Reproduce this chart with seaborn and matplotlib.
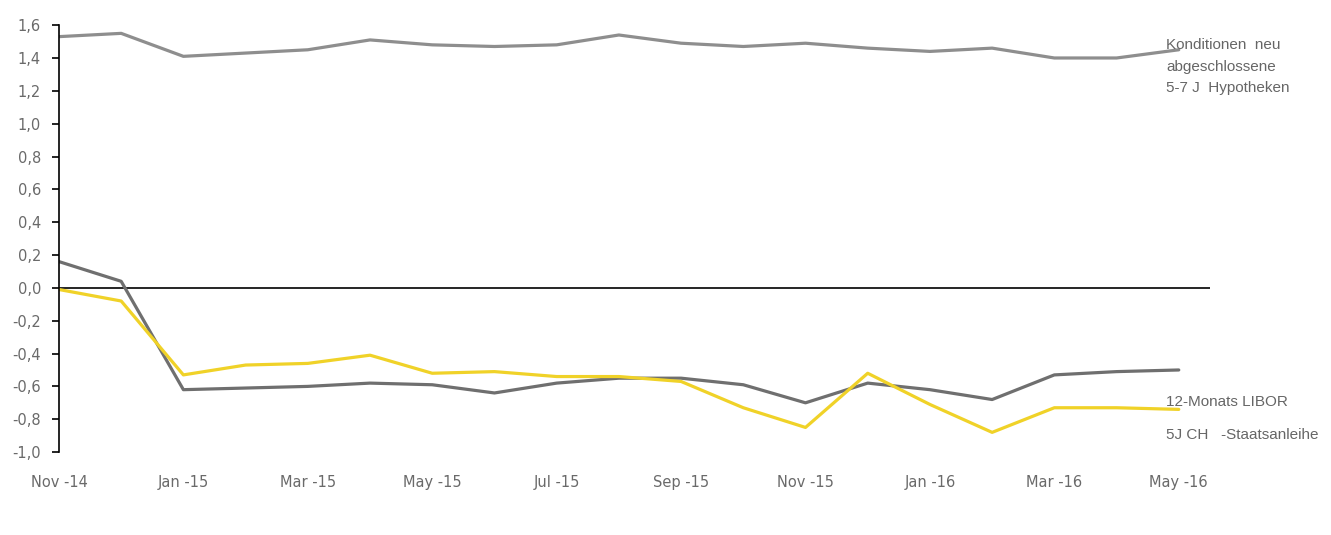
import matplotlib
matplotlib.use("Agg")
import matplotlib.pyplot as plt
import seaborn as sns
import pandas as pd

months = ["Nov -14", "Dec -14", "Jan -15", "Feb -15", "Mar -15", "Apr -15", "May -15",
          "Jun -15", "Jul -15", "Aug -15", "Sep -15", "Oct -15", "Nov -15", "Dec -15",
          "Jan -16", "Feb -16", "Mar -16", "Apr -16", "May -16"]
hypotheken = [1.53, 1.55, 1.41, 1.43, 1.45, 1.51, 1.48, 1.47, 1.48, 1.54, 1.49, 1.47,
              1.49, 1.46, 1.44, 1.46, 1.40, 1.40, 1.45]
libor = [0.16, 0.04, -0.62, -0.61, -0.60, -0.58, -0.59, -0.64, -0.58, -0.55, -0.55, -0.59,
         -0.70, -0.58, -0.62, -0.68, -0.53, -0.51, -0.50]
staatsanleihe = [-0.01, -0.08, -0.53, -0.47, -0.46, -0.41, -0.52, -0.51, -0.54, -0.54, -0.57,
                 -0.73, -0.85, -0.52, -0.71, -0.88, -0.73, -0.73, -0.74]
yticks = [1.6, 1.4, 1.2, 1.0, 0.8, 0.6, 0.4, 0.2, 0.0, -0.2, -0.4, -0.6, -0.8, -1.0]
ytick_labels = ["1,6", "1,4", "1,2", "1,0", "0,8", "0,6", "0,4", "0,2", "0,0",
                "-0,2", "-0,4", "-0,6", "-0,8", "-1,0"]
series_labels = ["Konditionen  neu\nabgeschlossene\n5-7 J  Hypotheken",
                 "12-Monats LIBOR", "5J CH   -Staatsanleihe"]

sns.set_theme(style="white")
plt.rcParams['font.family'] = ['DejaVu Sans']

idx = list(range(len(months)))
df = pd.DataFrame({"x": idx, "hyp": hypotheken, "libor": libor, "staat": staatsanleihe})

fig = plt.figure(figsize=(13.31, 5.35), dpi=100)
ax = fig.add_axes([0.0443, 0.155, 0.8647, 0.798])

sns.lineplot(data=df, x="x", y="hyp", ax=ax, color="#8e8e8e", linewidth=2.3)
sns.lineplot(data=df, x="x", y="libor", ax=ax, color="#6f6f6f", linewidth=2.3)
sns.lineplot(data=df, x="x", y="staat", ax=ax, color="#f0d228", linewidth=2.3)

ax.axhline(0, color="black", linewidth=1.2, zorder=1)

ax.set_xlim(0, 18.5)
ax.set_ylim(-1.0, 1.6)
ax.set_yticks(yticks)
ax.set_yticklabels(ytick_labels, color="#6a6a6a", fontsize=10.5)
ax.set_xticks(idx[::2])
ax.set_xticklabels(months[::2], color="#6a6a6a", fontsize=10.5)
ax.tick_params(axis="y", left=True, length=5, width=1.2, color="black", pad=8)
ax.tick_params(axis="x", bottom=False, pad=10.5)
ax.set_xlabel("")
ax.set_ylabel("")
for s in ["top", "right", "bottom"]:
    ax.spines[s].set_visible(False)
ax.spines["left"].set_color("black")
ax.spines["left"].set_linewidth(1.2)

fig.text(1166 / 1331, 1 - 38 / 535, series_labels[0], color="#666666", fontsize=11,
         family=["Liberation Sans"], va="top", linespacing=1.7)
fig.text(1166 / 1331, 1 - 402 / 535, series_labels[1], color="#666666", fontsize=11,
         family=["Liberation Sans"], va="center")
fig.text(1166 / 1331, 1 - 435 / 535, series_labels[2], color="#666666", fontsize=11,
         family=["Liberation Sans"], va="center")

fig.savefig("out.png", dpi=100)
